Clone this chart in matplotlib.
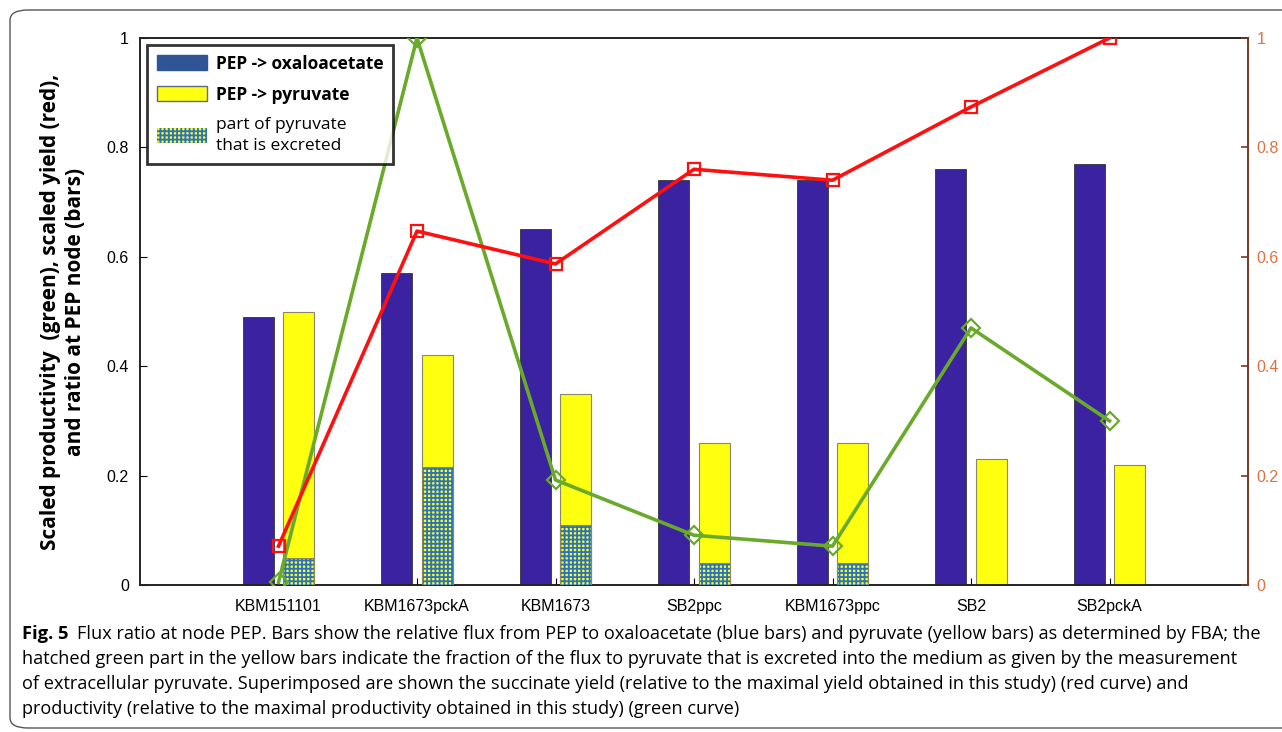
import numpy as np
import matplotlib
matplotlib.use("Agg")
import matplotlib.pyplot as plt
from matplotlib.patches import Patch, FancyBboxPatch

strains = ['KBM151101', 'KBM1673pckA', 'KBM1673', 'SB2ppc', 'KBM1673ppc', 'SB2', 'SB2pckA']
oxaloacetate = [0.49, 0.57, 0.65, 0.74, 0.74, 0.76, 0.77]
pyruvate = [0.50, 0.42, 0.35, 0.26, 0.26, 0.23, 0.22]
excreted = [0.05, 0.215, 0.11, 0.04, 0.04, 0.0, 0.0]
yield_red = [0.071, 0.647, 0.587, 0.760, 0.740, 0.874, 1.0]
productivity_green = [0.005, 1.0, 0.192, 0.091, 0.071, 0.470, 0.300]

caption = [
    "Flux ratio at node PEP. Bars show the relative flux from PEP to oxaloacetate (blue bars) and pyruvate (yellow bars) as determined by FBA; the",
    "hatched green part in the yellow bars indicate the fraction of the flux to pyruvate that is excreted into the medium as given by the measurement",
    "of extracellular pyruvate. Superimposed are shown the succinate yield (relative to the maximal yield obtained in this study) (red curve) and",
    "productivity (relative to the maximal productivity obtained in this study) (green curve)",
]

blue = '#3a22a0'
yellow = '#ffff10'
hatch_blue = '#2a72c8'
green = '#6aaa2a'
red = '#ff1010'
orange = '#e07040'

plt.rcParams['hatch.linewidth'] = 1.3
plt.rcParams['font.family'] = ['Liberation Sans', 'DejaVu Sans']

fig = plt.figure(figsize=(12.82, 7.32), dpi=100)

# card frame round the figure
frame = FancyBboxPatch((10 / 1282, 4 / 732), 1.2, 1.0 - 14 / 732,
                       boxstyle="round,pad=0,rounding_size=0.014",
                       transform=fig.transFigure, fill=False,
                       edgecolor='#555555', linewidth=1.0)
fig.patches.append(frame)

ax = fig.add_axes([140 / 1282, 1 - 585 / 732, (1248 - 140) / 1282, (585 - 38) / 732])
x = np.arange(1, len(strains) + 1)
w = 0.225
off = 0.145

ax.bar(x - off, oxaloacetate, w, color=blue, edgecolor='#333333', linewidth=0.6, zorder=2)
ax.bar(x + off, pyruvate, w, color=yellow, edgecolor='#888866', linewidth=0.8, zorder=2)
ax.bar(x + off, excreted, w, color=yellow, edgecolor=hatch_blue, hatch='++++', linewidth=0, zorder=3)
ax.bar(x + off, excreted, w, fill=False, edgecolor='#888866', linewidth=0.8, zorder=3)

ax.plot(x, productivity_green, color=green, linewidth=2.6, marker='D', markersize=9,
        markerfacecolor='none', markeredgecolor=green, markeredgewidth=1.6, zorder=4)
ax.plot(x, yield_red, color=red, linewidth=2.6, marker='s', markersize=8.5,
        markerfacecolor='none', markeredgecolor=red, markeredgewidth=1.6, zorder=5)

ax.set_xlim(0, 8)
ax.set_ylim(0, 1)
ax.set_xticks(x)
ax.set_xticklabels(strains, fontsize=11.5)
ax.set_yticks([0, 0.2, 0.4, 0.6, 0.8, 1.0])
ax.set_yticklabels(['0', '0.2', '0.4', '0.6', '0.8', '1'], fontsize=11.5)
ax.tick_params(axis='both', direction='in', length=5, width=0.8, pad=8)
ax.tick_params(axis='x', pad=10)
for s in ['left', 'bottom', 'top']:
    ax.spines[s].set_color('#222222')
    ax.spines[s].set_linewidth(1.4)
ax.spines['right'].set_visible(False)

ax.set_ylabel("Scaled productivity  (green), scaled yield (red),\nand ratio at PEP node (bars)",
              fontsize=15, fontweight='bold', family=['Open Sans', 'DejaVu Sans'],
              linespacing=1.25)
ax.yaxis.set_label_coords(-0.049, 0.5)

ax2 = ax.twinx()
ax2.set_ylim(0, 1)
ax2.set_yticks([0, 0.2, 0.4, 0.6, 0.8, 1.0])
ax2.set_yticklabels(['0', '0.2', '0.4', '0.6', '0.8', '1'], fontsize=11.5, color=orange)
ax2.tick_params(axis='y', direction='in', length=5, width=1.2, colors='#7a3a20', pad=6)
for lab in ax2.get_yticklabels():
    lab.set_color(orange)
ax2.spines['right'].set_color('#7a3a20')
ax2.spines['right'].set_linewidth(1.4)
for s in ['left', 'top', 'bottom']:
    ax2.spines[s].set_visible(False)

handles = [
    Patch(facecolor='#2f5597', edgecolor='#2f5597'),
    Patch(facecolor=yellow, edgecolor='#5a6a80'),
    Patch(facecolor=yellow, edgecolor=hatch_blue, hatch='++++', linewidth=0),
]
labels = ['PEP -> oxaloacetate', 'PEP -> pyruvate', 'part of pyruvate\nthat is excreted']
leg = ax.legend(handles, labels, loc='upper left', bbox_to_anchor=(7 / 1108, 1 - 7 / 547),
                borderaxespad=0, frameon=True, fancybox=False, edgecolor='black',
                handlelength=2.9, handleheight=1.0, handletextpad=0.5,
                labelspacing=0.75, borderpad=0.55,
                prop={'family': ['Open Sans', 'DejaVu Sans'], 'size': 12.5})
leg.get_frame().set_linewidth(2.0)
leg.set_zorder(10)
for t in leg.get_texts()[:2]:
    t.set_fontweight('bold')
leg.get_texts()[2].set_linespacing(1.45)

# caption
cap_fam = ['Open Sans', 'DejaVu Sans']
ys = [634, 659, 684, 709]
fig.text(22 / 1282, 1 - ys[0] / 732, "Fig. 5", fontsize=13.2, fontweight='bold',
         family=cap_fam, va='center', ha='left')
fig.text(77 / 1282, 1 - ys[0] / 732, caption[0], fontsize=13.1, family=cap_fam,
         va='center', ha='left')
for yy, line in zip(ys[1:], caption[1:]):
    fig.text(22 / 1282, 1 - yy / 732, line, fontsize=13.1, family=cap_fam,
             va='center', ha='left')

fig.savefig('out.png', dpi=100)
